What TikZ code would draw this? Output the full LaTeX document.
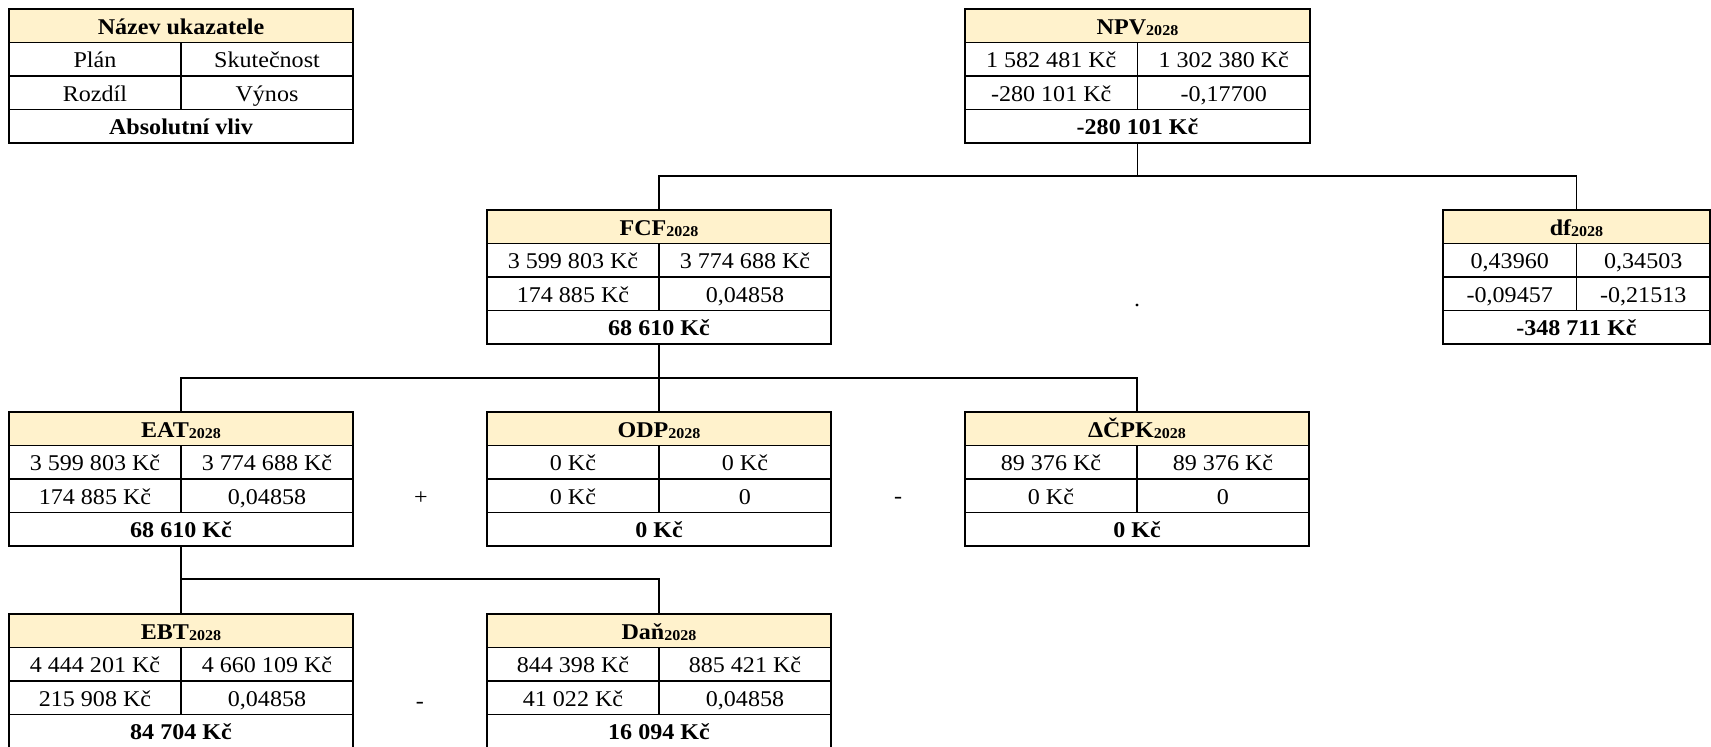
\documentclass[tikz,border=0pt]{standalone}
\usepackage{fontspec}
\setmainfont{Liberation Serif}[FakeStretch=1.07]
\usetikzlibrary{calc}
\definecolor{headfill}{HTML}{FFF2CC}
\tikzset{
 frame/.style={draw=none, rectangle, inner sep=0pt, outer sep=0pt, minimum height=134pt},
 cellline/.style={line width=1.5pt, black},
 frameline/.style={line width=2pt, black},
 conn/.style={line width=1.6pt, black},
 txt/.style={anchor=base, inner sep=0pt, font=\fontsize{22.5}{27}\selectfont, yshift=-8.5pt},
 btxt/.style={anchor=base, inner sep=0pt, font=\fontsize{22.5}{27}\selectfont\bfseries, yshift=-8.5pt},
 op/.style={inner sep=0pt, font=\fontsize{22.5}{27}\selectfont},
}
\newcommand\yr[1]{{\fontsize{15}{15}\selectfont\raisebox{-1.5pt}{#1}}}
\newcommand\kbox[9]{%
 \node[frame, minimum width=#3pt, anchor=north west] (#1) at (#2) {};
 \fill[headfill] (#1.north west) rectangle ($(#1.north east)!0.25!(#1.south east)$);
 \foreach \f in {0.25,0.5,0.75} {\draw[cellline] ($(#1.north west)!\f!(#1.south west)$) -- ($(#1.north east)!\f!(#1.south east)$);}
 \draw[cellline] ($(#1.north)!0.25!(#1.south)$) -- ($(#1.north)!0.75!(#1.south)$);
 \draw[frameline] (#1.north west) rectangle (#1.south east);
 \coordinate (#1-w1) at ($(#1.north west)!0.375!(#1.south west)$);
 \coordinate (#1-e1) at ($(#1.north east)!0.375!(#1.south east)$);
 \coordinate (#1-w2) at ($(#1.north west)!0.625!(#1.south west)$);
 \coordinate (#1-e2) at ($(#1.north east)!0.625!(#1.south east)$);
 \node[btxt] (#1-t) at ($(#1.north)!0.125!(#1.south)$) {#4};
 \node[txt] (#1-a) at ($(#1-w1)!0.25!(#1-e1)$) {#5};
 \node[txt] (#1-b) at ($(#1-w1)!0.75!(#1-e1)$) {#6};
 \node[txt] (#1-c) at ($(#1-w2)!0.25!(#1-e2)$) {#7};
 \node[txt] (#1-d) at ($(#1-w2)!0.75!(#1-e2)$) {#8};
 \node[btxt] (#1-e) at ($(#1.north)!0.875!(#1.south)$) {#9};
}
\begin{document}
\begin{tikzpicture}[x=1pt, y=-1pt]
\useasboundingbox (0,0) rectangle (1711,747);
\kbox{leg}{9,9}{344}{Název ukazatele}{Plán}{Skutečnost}{Rozdíl}{Výnos}{Absolutní vliv}
\kbox{npv}{965,9}{345}{NPV\yr{2028}}{1 582 481 Kč}{1 302 380 Kč}{-280 101 Kč}{-0,17700}{-280 101 Kč}
\kbox{fcf}{487,210}{344}{FCF\yr{2028}}{3 599 803 Kč}{3 774 688 Kč}{174 885 Kč}{0,04858}{68 610 Kč}
\kbox{df}{1443,210}{267}{df\yr{2028}}{0,43960}{0,34503}{-0,09457}{-0,21513}{-348 711 Kč}
\kbox{eat}{9,412}{344}{EAT\yr{2028}}{3 599 803 Kč}{3 774 688 Kč}{174 885 Kč}{0,04858}{68 610 Kč}
\kbox{odp}{487,412}{344}{ODP\yr{2028}}{0 Kč}{0 Kč}{0 Kč}{0}{0 Kč}
\kbox{dcpk}{965,412}{344}{ΔČPK\yr{2028}}{89 376 Kč}{89 376 Kč}{0 Kč}{0}{0 Kč}
\kbox{ebt}{9,614}{344}{EBT\yr{2028}}{4 444 201 Kč}{4 660 109 Kč}{215 908 Kč}{0,04858}{84 704 Kč}
\kbox{dan}{487,614}{344}{Daň\yr{2028}}{844 398 Kč}{885 421 Kč}{41 022 Kč}{0,04858}{16 094 Kč}
% connectors
\coordinate (b1) at ($(npv.south)+(0,33)$);
\draw[conn] (npv.south) -- (b1);
\draw[conn] (fcf.north) |- (b1) -| (df.north);
\coordinate (b2) at ($(fcf.south)+(0,34)$);
\draw[conn] (fcf.south) -- (odp.north);
\draw[conn] (eat.north) |- (b2) -| (dcpk.north);
\coordinate (b3) at ($(eat.south)+(0,33)$);
\draw[conn] (eat.south) -- (ebt.north);
\draw[conn] (b3) -| (dan.north);
% operators
\node[op] (plus) at (421,498) {+};
\node[op] (minus1) at (898,500) {-};
\node[op] (minus2) at (420,705) {-};
\node[op, anchor=base] (dot) at (1137,306) {.};
\end{tikzpicture}
\end{document}
